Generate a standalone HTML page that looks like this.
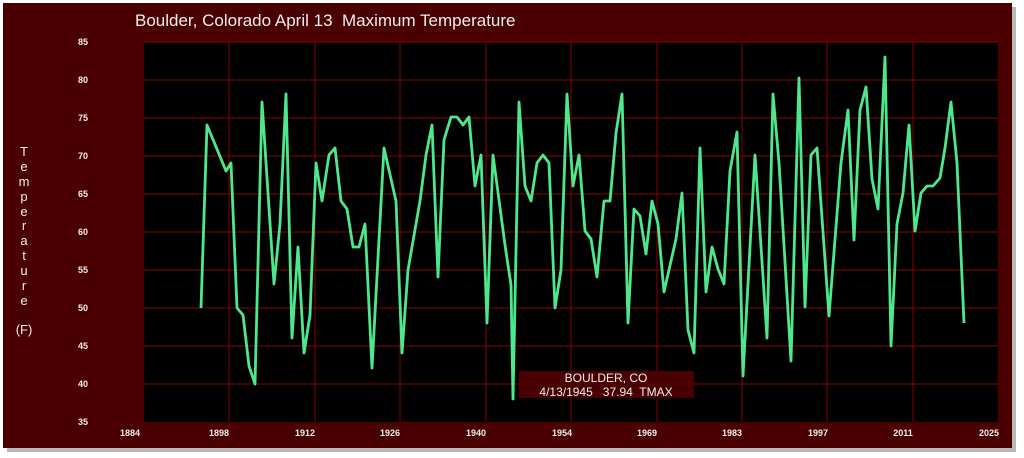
<!DOCTYPE html>
<html><head><style>
html,body{margin:0;padding:0;background:#fff;width:1024px;height:458px;overflow:hidden;font-family:"Liberation Sans",sans-serif}
text{white-space:pre}
</style></head><body>
<svg width="1024" height="458" xmlns="http://www.w3.org/2000/svg">
<rect x="7" y="7" width="1009" height="445" fill="#888" opacity="0.6"/>
<rect x="3" y="3" width="1009" height="445" fill="#4a0000"/>
<rect x="144" y="42" width="854" height="380" fill="#000"/>
<g stroke="#8a0000" stroke-width="1">
<line x1="144" y1="80" x2="998" y2="80"/><line x1="144" y1="118" x2="998" y2="118"/>
<line x1="144" y1="156" x2="998" y2="156"/><line x1="144" y1="194" x2="998" y2="194"/>
<line x1="144" y1="232" x2="998" y2="232"/><line x1="144" y1="270" x2="998" y2="270"/>
<line x1="144" y1="308" x2="998" y2="308"/><line x1="144" y1="346" x2="998" y2="346"/>
<line x1="144" y1="384" x2="998" y2="384"/>
<line x1="229" y1="42" x2="229" y2="422"/><line x1="315" y1="42" x2="315" y2="422"/>
<line x1="400" y1="42" x2="400" y2="422"/><line x1="486" y1="42" x2="486" y2="422"/>
<line x1="571" y1="42" x2="571" y2="422"/><line x1="657" y1="42" x2="657" y2="422"/>
<line x1="742" y1="42" x2="742" y2="422"/><line x1="827" y1="42" x2="827" y2="422"/>
<line x1="913" y1="42" x2="913" y2="422"/>
<line x1="144" y1="42" x2="998" y2="42"/>
</g>
<text x="135" y="26" fill="#eee" font-size="17" xml:space="preserve">Boulder, Colorado April 13  Maximum Temperature</text>
<g fill="#eee" font-size="9" font-weight="bold" text-anchor="end">
<text x="88" y="45">85</text><text x="88" y="83">80</text><text x="88" y="121">75</text>
<text x="88" y="159">70</text><text x="88" y="197">65</text><text x="88" y="235">60</text>
<text x="88" y="273">55</text><text x="88" y="311">50</text><text x="88" y="349">45</text>
<text x="88" y="387">40</text><text x="88" y="425">35</text>
</g>
<g fill="#eee" font-size="9" font-weight="bold" text-anchor="middle">
<text x="130" y="436">1884</text><text x="219" y="436">1898</text><text x="305" y="436">1912</text>
<text x="390" y="436">1926</text><text x="476" y="436">1940</text><text x="562" y="436">1954</text>
<text x="647" y="436">1969</text><text x="732" y="436">1983</text><text x="818" y="436">1997</text>
<text x="903" y="436">2011</text><text x="989" y="436">2025</text>
</g>
<g fill="#eee" font-size="13" text-anchor="middle">
<text x="24" y="156">T</text><text x="24" y="171">e</text><text x="24" y="186">m</text>
<text x="24" y="201">p</text><text x="24" y="216">e</text><text x="24" y="230">r</text>
<text x="24" y="245">a</text><text x="24" y="260">t</text><text x="24" y="275">u</text>
<text x="24" y="290">r</text><text x="24" y="305">e</text><text x="24" y="334">(F)</text>
</g>
<rect x="519" y="371" width="175" height="27" fill="#4a0000"/>
<g fill="#eee" font-size="12" text-anchor="middle">
<text x="606" y="382">BOULDER, CO</text><text x="606" y="396" xml:space="preserve">4/13/1945   37.94  TMAX</text>
</g>
<polyline fill="none" stroke="#4ee88c" stroke-width="2.8" stroke-linejoin="round" points="201,308 207,125 226,171 231,163 237,308 243,315 249,366 255,384 262,102 274,284 280,224 286,94 292,338 298,247 304,353 310,315 316,163 322,201 329,155 335,148 341,201 347,209 353,247 359,247 365,224 372,368 384,148 396,201 402,353 408,270 420,201 426,155 432,125 438,277 444,140 451,117 457,117 463,125 469,117 475,186 481,155 487,323 493,155 505,245 511,285 513,399 519,102 525,186 531,201 537,163 543,155 549,163 555,308 561,270 567,94 573,186 579,155 585,231 591,239 597,277 604,201 610,201 616,133 622,94 628,323 634,209 640,216 646,254 652,201 658,224 664,292 676,239 682,193 688,330 694,353 700,148 706,292 712,247 718,269 724,284 730,171 737,132 743,376 755,155 767,338 773,94 779,163 791,361 799,78 805,307 811,155 817,148 829,316 841,163 848,110 854,240 860,110 866,87 872,179 878,209 885,57 891,346 897,224 903,193 909,125 915,231 921,193 927,186 933,186 940,178 945,148 951,102 957,163 964,323"/>
</svg>
</body></html>
